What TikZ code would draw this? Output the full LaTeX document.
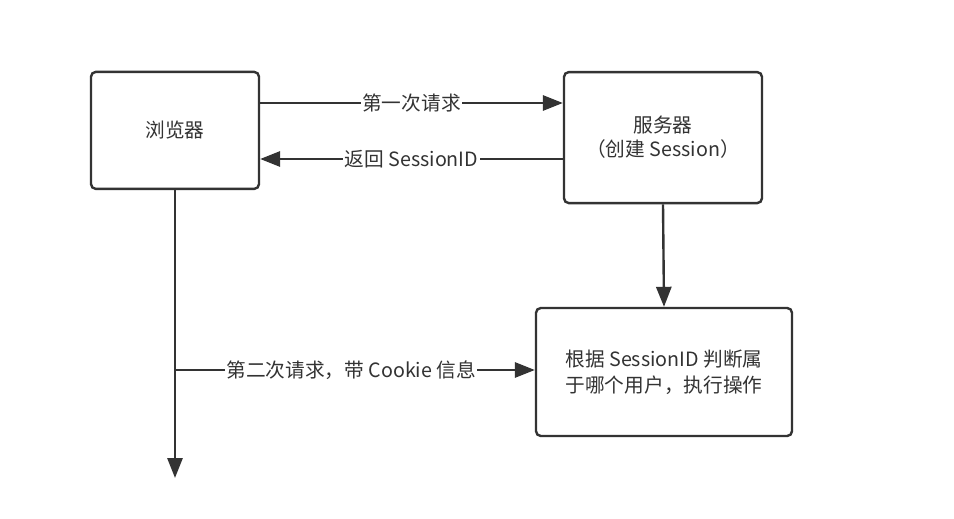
\documentclass[tikz,border=0pt]{standalone}
\usepackage{fontspec}
\newfontfamily\cjk{Noto Sans CJK SC}
\usetikzlibrary{arrows.meta}
\definecolor{ink}{HTML}{333333}
\tikzset{
	box/.style={draw=ink, line width=1.7pt, rounded corners=0.12cm, fill=white, align=center, text=ink, font=\cjk\fontsize{14}{17}\selectfont},
	flow/.style={draw=ink, line width=1.7pt, -{Triangle[length=0.5cm,width=0.38cm]}},
	lbl/.style={fill=white, inner sep=1pt, text=ink, font=\cjk\fontsize{14}{17}\selectfont}
}

\begin{document}
\begin{tikzpicture}
		%%%%% START %%%%%
		\useasboundingbox (0, 0) rectangle (23.85, 12.95);
		
		\node[box, minimum width=4.2cm, minimum height=2.925cm] (browser) at (4.375, 9.69) {浏览器};
		\node[box, minimum width=4.95cm, minimum height=3.275cm] (server) at (16.575, 9.51) {服务器\\（创建 Session）};
		\node[box, minimum width=6.4cm, minimum height=3.2cm, font=\cjk\fontsize{14}{18.5}\selectfont] (check) at (16.6, 3.65) {根据 SessionID 判断属\\于哪个用户，执行操作};
		
		\coordinate (req) at (0, 10.375);
		\coordinate (ret) at (0, 8.975);
		\coordinate (fork) at (4.375, 3.7);
		\coordinate (end) at (4.375, 1.0);
		
		\draw[flow] (browser.east |- req) -- node[lbl] {第一次请求} (server.west |- req);
		\draw[flow] (server.west |- ret) -- node[lbl] {返回 SessionID} (browser.east |- ret);
		\draw[flow] (server.south) -- (check.north);
		
		\draw[flow] (browser.south) -- (end);
		\draw[flow] (fork) -- node[lbl, pos=0.49] {第二次请求，带 Cookie 信息} (check.west |- fork);
		%%%%% END %%%%%
\end{tikzpicture}
\end{document}
